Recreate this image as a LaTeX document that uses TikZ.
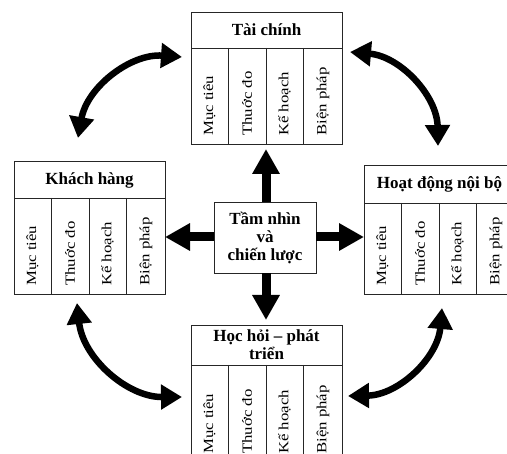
\documentclass[tikz,border=0pt]{standalone}
\usepackage{graphicx}
\usepackage{fontspec}
\setmainfont{Liberation Serif}
\usetikzlibrary{arrows.meta}
\tikzset{
  boxline/.style={draw=black!85, line width=0.9pt},
  vtext/.style={rotate=90, anchor=west, inner sep=0pt, font=\fontsize{14}{16}\selectfont},
  htext/.style={inner sep=0pt, align=center, font=\fontsize{17}{18}\selectfont\bfseries},
  blockarrow/.style={line width=9pt, -{Triangle[width=26pt,length=25pt]}},
  curvearrow/.style={line width=6.5pt, {Triangle[width=24pt,length=21pt]}-{Triangle[width=24pt,length=21pt]}},
}
\newcommand{\vlab}[1]{\scalebox{1.2}[1]{#1}}
\newcommand{\quadbox}[5]{% #1 left x, #2 top y, #3 header bottom y, #4 bottom y, #5 prefix
  \draw[boxline] (#1,#2) rectangle (#1+151,#4);
  \draw[boxline] (#1,#3) -- (#1+151,#3);
  \foreach \k in {1,2,3} {\draw[boxline] (#1+37.5*\k,#3) -- (#1+37.5*\k,#4);}
  \node[vtext] (#5a) at (#1+18.5,#4-8) {\vlab{Mục tiêu}};
  \node[vtext] (#5b) at (#1+56,#4-8) {\vlab{Thuớc đo}};
  \node[vtext] (#5c) at (#1+93.5,#4-8) {\vlab{Kế hoạch}};
  \node[vtext] (#5d) at (#1+132,#4-8) {\vlab{Biện pháp}};
}
\begin{document}
\begin{tikzpicture}[x=1pt,y=-1pt]
\useasboundingbox (0,0) rectangle (507,454);
\clip (0,0) rectangle (507,454);
\fill[white] (0,0) rectangle (507,454);
% boxes
\quadbox{191}{12}{48}{144}{T}
\node[htext] (Th) at (266.5,30) {Tài chính};
\quadbox{14}{161}{198}{294}{K}
\node[htext] (Kh) at (89.5,180) {Khách hàng};
\quadbox{364}{165}{203}{294}{H}
\node[htext] (Hh) at (439.5,184) {Hoạt động nội bộ};
\quadbox{191}{325}{365}{462}{L}
\node[htext] (Lh) at (266.5,345) {Học hỏi – phát\\triển};
% center
\node[boxline, htext, minimum width=102pt, minimum height=71pt, inner sep=0pt] (C) at (265,237.5) {Tầm nhìn\\và\\chiến lược};
% block arrows
\coordinate (up) at (266,149);
\coordinate (dn) at (266,320);
\coordinate (lf) at (165,237);
\coordinate (rt) at (364,237);
\draw[blockarrow] (C.north -| up) -- (up);
\draw[blockarrow] (C.south -| dn) -- (dn);
\draw[blockarrow] (C.west |- lf) -- (lf);
\draw[blockarrow] (C.east |- rt) -- (rt);
% curved arrows
\coordinate (a1) at (78,138);
\coordinate (a2) at (182,57);
\coordinate (b1) at (350,52);
\coordinate (b2) at (438,146);
\coordinate (c1) at (77,303);
\coordinate (c2) at (182,397);
\coordinate (d1) at (442,308);
\coordinate (d2) at (348,396);
\draw[curvearrow] (a1) to[bend left=42] (a2);
\draw[curvearrow] (b1) to[bend left=42] (b2);
\draw[curvearrow] (c1) to[bend right=42] (c2);
\draw[curvearrow] (d1) to[bend left=42] (d2);
\end{tikzpicture}
\end{document}
